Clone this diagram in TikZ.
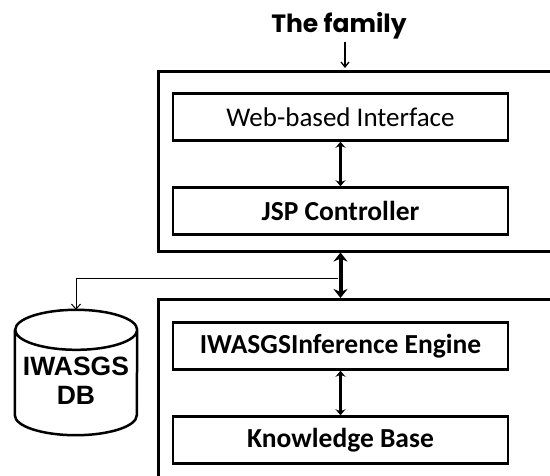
\documentclass[tikz,border=0pt]{standalone}
\usepackage{fontspec}
\setmainfont{Carlito}
\newfontfamily\famfont{Poppins}
\newfontfamily\dbfont{Liberation Sans}
\usetikzlibrary{arrows.meta}
\tikzset{
  outerbox/.style={draw, line width=2.5pt, anchor=north west},
  innerbox/.style={draw, line width=2.5pt, minimum width=335pt, minimum height=47pt, font=\fontsize{27}{31}\selectfont},
  boldtext/.style={font=\bfseries\fontsize{27.5}{31}\selectfont},
  thinarrow/.style={line width=1.3pt, -{Straight Barb[length=5pt,width=8pt]}},
  midarrow/.style={line width=3pt, {Stealth[length=6pt,width=10pt]}-{Stealth[length=6pt,width=10pt]}},
  bigarrow/.style={line width=4pt, {Stealth[length=9pt,width=14pt]}-{Stealth[length=9pt,width=14pt]}},
  branch/.style={line width=1pt, -{Straight Barb[length=5pt,width=9pt]}},
}
\begin{document}
\begin{tikzpicture}[x=1pt,y=-1pt]
\useasboundingbox (0,0) rectangle (550,475);
\clip (0,0) rectangle (550,475);
% outer boxes
\node[outerbox, minimum width=420pt, minimum height=180pt] (outerA) at (157,70) {};
\node[outerbox, minimum width=420pt, minimum height=200pt] (outerB) at (157,298) {};
% title
\node[font=\famfont\bfseries\fontsize{25}{29}\selectfont] (family) at (339,26) {The family};
\coordinate (famin) at (345,68);
\draw[thinarrow] (345,42) -- (famin);
% inner boxes
\node[innerbox] (web) at (340.5,117) {Web-based Interface};
\node[innerbox, boldtext] (jsp) at (340.5,211) {JSP Controller};
\node[innerbox, boldtext] (inf) at (340.5,346) {IWASGSInference Engine};
\node[innerbox, boldtext] (kb) at (340.5,440) {Knowledge Base};
\draw[midarrow] (web.south) -- (jsp.north);
\draw[midarrow] (inf.south) -- (kb.north);
\draw[bigarrow] (jsp.south |- outerA.south) -- (jsp.south |- outerB.north);
% database
\node[minimum width=122pt, minimum height=125pt, inner sep=0pt] (db) at (76,372.5) {};
\draw[line width=2.5pt]
  ([yshift=-20pt]db.north west) -- ([yshift=20pt]db.south west)
  arc[start angle=180, end angle=360, x radius=61pt, y radius=20pt]
  -- ([yshift=-20pt]db.north east)
  arc[start angle=0, end angle=180, x radius=61pt, y radius=20pt]
  arc[start angle=180, end angle=360, x radius=61pt, y radius=20pt];
\node[font=\dbfont\bfseries\fontsize{26.5}{30}\selectfont, align=center] (dblabel) at (76,381) {IWASGS\\[-1pt]DB};
\coordinate (br) at (338,278);
\draw[branch] (br) -| (db.north);
\end{tikzpicture}
\end{document}
